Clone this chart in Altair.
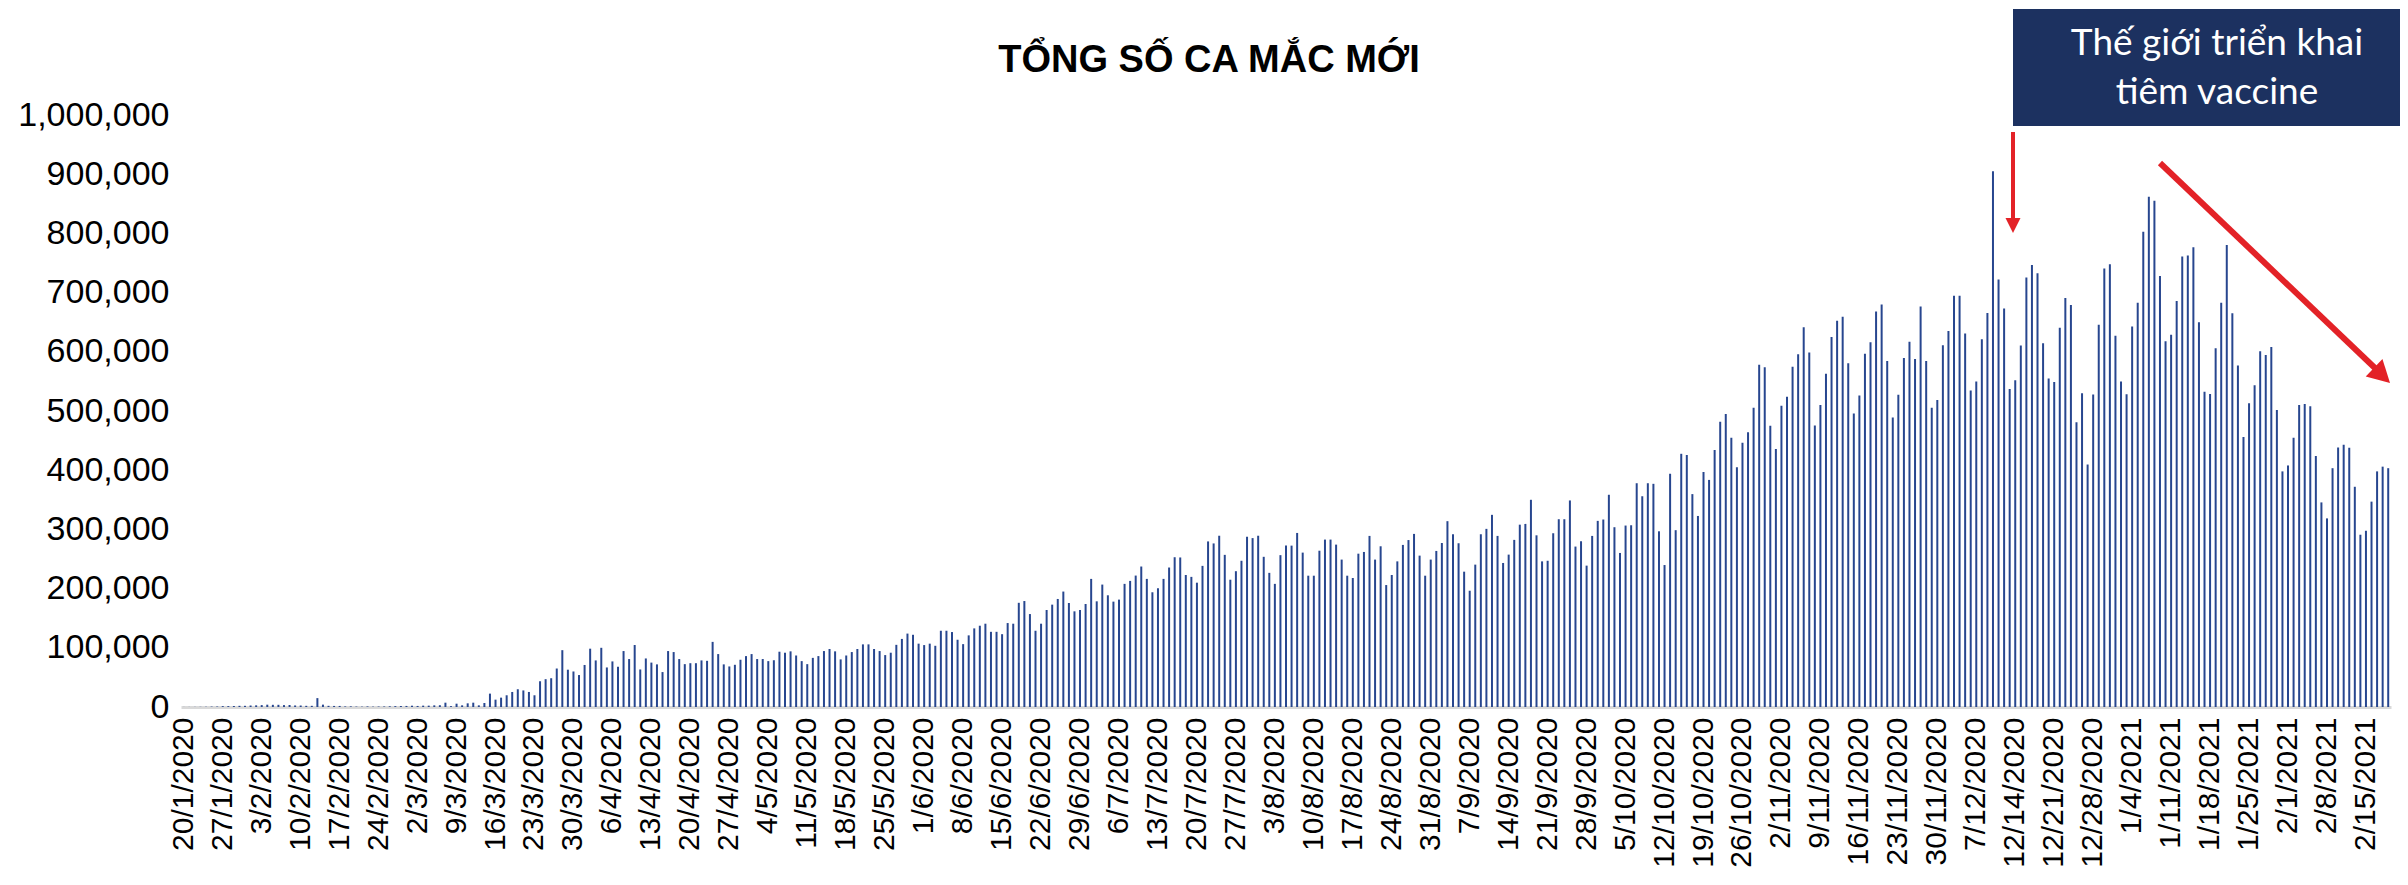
import altair as alt
import pandas as pd

# ---- data: daily new cases (one list per month) ----
jan_2020 = [100, 150, 200, 300, 400, 700, 800, 1500, 1500, 1700, 2000, 2000]
feb_2020 = [2500, 2800, 3200, 3900, 3700, 3700, 3200, 3400, 2600, 2500, 2000, 2000, 15000, 4000,
            2000, 1800, 1800, 1000, 1100, 700, 600, 1000, 600, 800, 900, 1200, 1500, 1700, 1800]
mar_2020 = [2200, 1800, 2300, 2300, 2800, 3000, 7300, 1500, 5600, 2800, 6200, 7300, 2800, 6800,
            22600, 12400, 15800, 19800, 25400, 30000, 28000, 25400, 19800, 43500, 47000, 48600,
            65000, 96000, 63000, 60000, 54000]
apr_2020 = [71000, 98500, 78700, 100000, 66800, 77000, 68000, 94500, 81000, 104700, 63400, 82000,
            75000, 72000, 59000, 94500, 92800, 81000, 72400, 74000, 74000, 78700, 78000, 110000,
            89400, 72000, 68500, 71300, 79800, 86000]
may_2020 = [89400, 81000, 81000, 77500, 79000, 93400, 91700, 94000, 87000, 77500, 72400, 83000,
            86000, 94500, 98000, 94000, 80400, 87000, 92800, 98000, 105800, 105800, 98000, 94500,
            87700, 91700, 105000, 115000, 124000, 122000, 107000]
jun_2020 = [104600, 107000, 103400, 128800, 128800, 126600, 113600, 106200, 121000, 132800, 137300,
            140700, 127000, 127000, 123000, 141800, 140700, 176000, 179000, 157000, 128800, 140700,
            163900, 172900, 182500, 195000, 175700, 161600, 163900, 174000]
jul_2020 = [216400, 178500, 206800, 188700, 178000, 181400, 208000, 213000, 222000, 237300, 216400,
            193800, 200600, 216400, 235600, 253000, 252600, 223000, 219800, 210000, 238400, 279700,
            276300, 289300, 257000, 215000, 229400, 247000, 287600, 285300, 289300]
aug_2020 = [253700, 226600, 208000, 256500, 272800, 272600, 294000, 260800, 221800, 221800, 264000,
            282800, 282800, 274300, 249000, 221800, 217900, 259000, 261900, 289000, 249000, 271500,
            206000, 223000, 246000, 273800, 282000, 292400, 255700, 221800, 249000]
sep_2020 = [263600, 277000, 313900, 291800, 276600, 228600, 196400, 240500, 291800, 300900, 324600,
            289000, 243300, 257400, 282300, 308000, 309300, 350000, 290000, 246000, 247000, 293500,
            317200, 317200, 348900, 271000, 280000, 238800, 289000, 314400]
oct_2020 = [316700, 358500, 303700, 260200, 306500, 307000, 378000, 356000, 378000, 377000, 296800,
            239800, 394000, 298700, 427700, 425700, 359600, 322700, 397000, 383600, 434000, 482000,
            495000, 454900, 405000, 446500, 464000, 505400, 578000, 574000, 475000]
nov_2020 = [436000, 508700, 524000, 574800, 596000, 641500, 598800, 475600, 510000, 563000, 625000,
            652500, 659000, 580600, 495700, 526000, 596800, 616000, 668000, 680000, 584500, 489000,
            527500, 589700, 617000, 587700, 676500, 584500, 505400, 518400]
dec_2020 = [611000, 635000, 694700, 694700, 631000, 534600, 550000, 621400, 665500, 905000, 722000,
            673000, 537000, 552000, 610700, 725700, 746600, 732500, 614400, 554700, 549000, 640800,
            691000, 679000, 481000, 530000, 409600, 527700, 645800, 740500, 747800]
jan_2021 = [627300, 549800, 528300, 642700, 683000, 802600, 862000, 855000, 728000, 618000, 629000,
            685700, 761000, 762600, 776700, 650000, 532600, 528900, 606000, 683000, 780400, 665000,
            576900, 456000, 513000, 543700, 600900, 594700, 608000, 501800, 398000]
feb_2021 = [408000, 455000, 510000, 512000, 508000, 424000, 345600, 318600, 403400, 438500, 442800,
            437900, 372000, 291000, 297700, 346900, 398000, 406000, 403400]

tick_labels = ["20/1/2020", "27/1/2020", "3/2/2020", "10/2/2020", "17/2/2020", "24/2/2020",
               "2/3/2020", "9/3/2020", "16/3/2020", "23/3/2020", "30/3/2020", "6/4/2020",
               "13/4/2020", "20/4/2020", "27/4/2020", "4/5/2020", "11/5/2020", "18/5/2020",
               "25/5/2020", "1/6/2020", "8/6/2020", "15/6/2020", "22/6/2020", "29/6/2020",
               "6/7/2020", "13/7/2020", "20/7/2020", "27/7/2020", "3/8/2020", "10/8/2020",
               "17/8/2020", "24/8/2020", "31/8/2020", "7/9/2020", "14/9/2020", "21/9/2020",
               "28/9/2020", "5/10/2020", "12/10/2020", "19/10/2020", "26/10/2020", "2/11/2020",
               "9/11/2020", "16/11/2020", "23/11/2020", "30/11/2020", "7/12/2020", "12/14/2020",
               "12/21/2020", "12/28/2020", "1/4/2021", "1/11/2021", "1/18/2021", "1/25/2021",
               "2/1/2021", "2/8/2021", "2/15/2021"]

y_ticks = [0, 100000, 200000, 300000, 400000, 500000, 600000, 700000, 800000, 900000, 1000000]
chart_title = "TỔNG SỐ CA MẮC MỚI"
box_line_1 = "Thế giới triển khai"
box_line_2 = "tiêm vaccine"

# ---- build table ----
cases = (jan_2020 + feb_2020 + mar_2020 + apr_2020 + may_2020 + jun_2020 + jul_2020 + aug_2020
         + sep_2020 + oct_2020 + nov_2020 + dec_2020 + jan_2021 + feb_2021)
df = pd.DataFrame({"day": list(range(len(cases))), "cases": cases})
one = pd.DataFrame({"k": [0]})

W, H = 2210, 592
FONT = "Liberation Sans"
RED = "#E32227"
NAVY = "#1C3160"
BAR = "#27468F"

label_expr = "[" + ",".join("'" + t + "'" for t in tick_labels) + "][floor(datum.value / 7)]"

bars = alt.Chart(df).mark_bar(width=2, color=BAR).encode(
    x=alt.X("day:O",
            scale=alt.Scale(paddingInner=0, paddingOuter=0),
            axis=alt.Axis(values=list(range(0, len(cases), 7)), labelExpr=label_expr,
                          labelAngle=-90, title=None, ticks=False, labelPadding=10,
                          labelFontSize=30, labelFont=FONT, labelColor="black",
                          domainColor="#D9D9D9", domainWidth=3, labelOverlap=False,
                          labelFlush=False, grid=False)),
    y=alt.Y("cases:Q",
            scale=alt.Scale(domain=[0, 1000000], nice=False),
            axis=alt.Axis(values=y_ticks, format=",.0f", title=None, ticks=False, domain=False,
                          grid=False, labelFontSize=34, labelPadding=12, labelFont=FONT,
                          labelColor="black")),
)

title = alt.Chart(one).mark_text(text=chart_title, font=FONT, fontSize=38, fontWeight="bold",
                                 color="black", align="center", baseline="alphabetic").encode(
    x=alt.value(1028), y=alt.value(-43))

box = alt.Chart(one).mark_rect(color=NAVY).encode(
    x=alt.value(1832), x2=alt.value(2219), y=alt.value(-106), y2=alt.value(11))
box_t1 = alt.Chart(one).mark_text(text=box_line_1, font="Lato", fontSize=37, color="white",
                                  align="center", baseline="alphabetic").encode(
    x=alt.value(2036), y=alt.value(-60))
box_t2 = alt.Chart(one).mark_text(text=box_line_2, font="Lato", fontSize=37, color="white",
                                  align="center", baseline="alphabetic").encode(
    x=alt.value(2036), y=alt.value(-11))

arrow1_line = alt.Chart(one).mark_rule(color=RED, strokeWidth=4).encode(
    x=alt.value(1832), y=alt.value(17), y2=alt.value(106))
arrow1_head = alt.Chart(one).mark_point(shape="M0,0L-0.5,1L0.5,1Z", filled=True, size=900,
                                        angle=180, color=RED, opacity=1, strokeWidth=0).encode(
    x=alt.value(1832), y=alt.value(118))

arrow2_line = alt.Chart(one).mark_rule(color=RED, strokeWidth=6).encode(
    x=alt.value(1979), y=alt.value(48), x2=alt.value(2195), y2=alt.value(254))
arrow2_head = alt.Chart(one).mark_point(shape="M0,0L-0.55,1L0.55,1Z", filled=True, size=1936,
                                        angle=133.7, color=RED, opacity=1, strokeWidth=0).encode(
    x=alt.value(2209), y=alt.value(268))

chart = alt.layer(bars, title, box, box_t1, box_t2, arrow1_line, arrow1_head,
                  arrow2_line, arrow2_head).properties(
    width=W, height=H,
    padding={"left": 173, "top": 107, "right": 9, "bottom": 165},
    autosize=alt.AutoSizeParams(type="none"),
).configure_view(stroke=None)

chart.save("out.html", embed_options={"renderer": "svg", "actions": False})
